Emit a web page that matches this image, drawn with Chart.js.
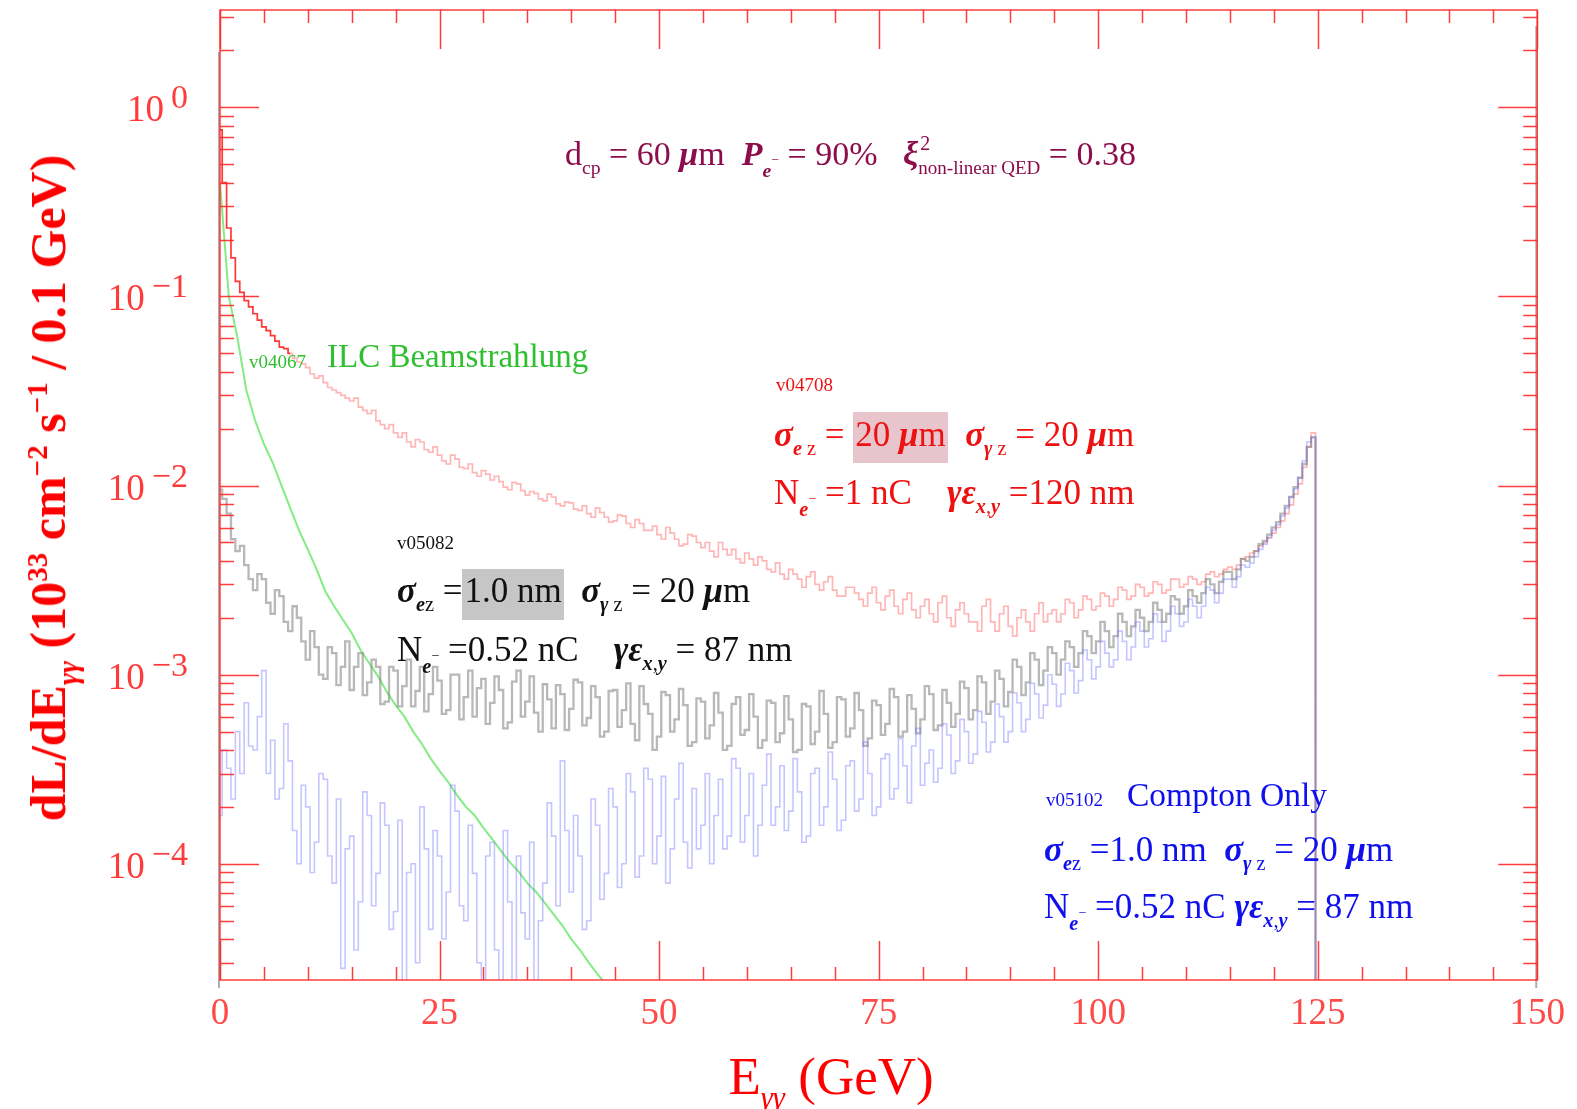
<!DOCTYPE html>
<html>
<head>
<meta charset="utf-8">
<script src="https://cdn.jsdelivr.net/npm/chart.js@4.4.1/dist/chart.umd.min.js"></script>
<style>
  html, body { margin: 0; padding: 0; background: #fff; }
  #wrap { position: relative; width: 1577px; height: 1109px; overflow: hidden; }
  #chart { position: absolute; left: 0; top: 0; }
  .ann { position: absolute; font-family: "Liberation Serif", "Times New Roman", serif; white-space: nowrap; line-height: 1; }
  .bi { font-weight: bold; font-style: italic; }
  .it { font-style: italic; }
  .sb { font-size: 0.58em; position: relative; top: 0.45em; }
  .sp { font-size: 0.58em; position: relative; top: -0.62em; }
  .ne { font-size: 0.58em; position: relative; top: 0.6em; }
  .ne .m { font-size: 0.7em; position: relative; top: -0.9em; }
  .ss { font-size: 0.56em; position: relative; top: 0.45em; }
  .ss .two { position: absolute; left: 0.1em; top: -1.2em; font-size: 1.05em; }
  .hl-red { background: #e8c5cc; padding: 3px 2px 9px 2px; }
  .hl-grey { background: #c6c6c6; padding: 2px 2px 10px 2px; }
  .small { font-size: 19px; }
  .line { font-size: 35px; }
</style>
</head>
<body>
<div id="wrap">
  <canvas id="chart" width="1577" height="1109"></canvas>

  <!-- axis titles -->
  <div class="ann" style="left:48px; top:488px; font-size:50px; font-weight:bold; color:#ff0000; transform:translate(-50%,-50%) rotate(-90deg);">dL/dE<span class="sb it">γγ</span> (10<span class="sp">33</span> cm<span class="sp">−2</span> s<span class="sp">−1</span> / 0.1 GeV)</div>
  <div class="ann" style="left:831px; top:1076px; font-size:53px; color:#ff0000; transform:translate(-50%,-50%);">E<span class="sb it">γγ</span> (GeV)</div>

  <!-- run parameters -->
  <div class="ann" style="left:565px; top:137px; font-size:34px; color:#8c0c4c;">d<span class="sb">cp</span> = 60 <span class="bi">μ</span>m&nbsp; <span class="bi">P</span><span class="ne"><span class="bi">e</span><span class="m">−</span></span> = 90% &nbsp;&nbsp;<span class="bi">ξ</span><span class="ss"><span class="two">2</span>non-linear QED</span> = 0.38</div>

  <!-- ILC beamstrahlung -->
  <div class="ann small" style="left:249px; top:352px; color:#2fbf2f;">v04067</div>
  <div class="ann" style="left:327px; top:340px; font-size:33px; color:#2fbf2f;">ILC Beamstrahlung</div>

  <!-- v04708 (red) -->
  <div class="ann small" style="left:776px; top:375px; color:#ee1111;">v04708</div>
  <div class="ann line" style="left:774px; top:417px; color:#ee1111;"><span class="bi">σ</span><span class="sb"><span class="bi">e</span> z</span> = <span class="hl-red">20 <span class="bi">μ</span>m</span>&nbsp; <span class="bi">σ</span><span class="sb"><span class="bi">γ</span> z</span> = 20 <span class="bi">μ</span>m</div>
  <div class="ann line" style="left:774px; top:475px; color:#ee1111;">N<span class="ne"><span class="bi">e</span><span class="m">−</span></span> =1 nC &nbsp;&nbsp; <span class="bi">γε</span><span class="sb"><span class="bi">x</span>,<span class="bi">y</span></span> =120 nm</div>

  <!-- v05082 (black) -->
  <div class="ann small" style="left:397px; top:533px; color:#111;">v05082</div>
  <div class="ann line" style="left:397px; top:573px; color:#111;"><span class="bi">σ</span><span class="sb"><span class="bi">e</span>z</span> =<span class="hl-grey">1.0 nm</span>&nbsp; <span class="bi">σ</span><span class="sb"><span class="bi">γ</span> z</span> = 20 <span class="bi">μ</span>m</div>
  <div class="ann line" style="left:397px; top:632px; color:#111;">N<span class="ne"><span class="bi">e</span><span class="m">−</span></span> =0.52 nC &nbsp;&nbsp; <span class="bi">γε</span><span class="sb"><span class="bi">x</span>,<span class="bi">y</span></span> = 87 nm</div>

  <!-- v05102 (blue) -->
  <div class="ann small" style="left:1046px; top:790px; color:#1010ee;">v05102</div>
  <div class="ann" style="left:1127px; top:778px; font-size:33.5px; color:#1010ee;">Compton Only</div>
  <div class="ann line" style="left:1044px; top:832px; color:#1010ee;"><span class="bi">σ</span><span class="sb"><span class="bi">e</span>z</span> =1.0 nm&nbsp; <span class="bi">σ</span><span class="sb"><span class="bi">γ</span> z</span> = 20 <span class="bi">μ</span>m</div>
  <div class="ann line" style="left:1044px; top:889px; color:#1010ee;">N<span class="ne"><span class="bi">e</span><span class="m">−</span></span> =0.52 nC <span class="bi">γε</span><span class="sb"><span class="bi">x</span>,<span class="bi">y</span></span> = 87 nm</div>
</div>

<script>
// photon-photon energy (GeV), 0.5 GeV bin centres
const energy = [
  0, 0.5, 1, 1.5, 2, 2.5, 3, 3.5, 4, 4.5,
  5, 5.5, 6, 6.5, 7, 7.5, 8, 8.5, 9, 9.5,
  10, 10.5, 11, 11.5, 12, 12.5, 13, 13.5, 14, 14.5,
  15, 15.5, 16, 16.5, 17, 17.5, 18, 18.5, 19, 19.5,
  20, 20.5, 21, 21.5, 22, 22.5, 23, 23.5, 24, 24.5,
  25, 25.5, 26, 26.5, 27, 27.5, 28, 28.5, 29, 29.5,
  30, 30.5, 31, 31.5, 32, 32.5, 33, 33.5, 34, 34.5,
  35, 35.5, 36, 36.5, 37, 37.5, 38, 38.5, 39, 39.5,
  40, 40.5, 41, 41.5, 42, 42.5, 43, 43.5, 44, 44.5,
  45, 45.5, 46, 46.5, 47, 47.5, 48, 48.5, 49, 49.5,
  50, 50.5, 51, 51.5, 52, 52.5, 53, 53.5, 54, 54.5,
  55, 55.5, 56, 56.5, 57, 57.5, 58, 58.5, 59, 59.5,
  60, 60.5, 61, 61.5, 62, 62.5, 63, 63.5, 64, 64.5,
  65, 65.5, 66, 66.5, 67, 67.5, 68, 68.5, 69, 69.5,
  70, 70.5, 71, 71.5, 72, 72.5, 73, 73.5, 74, 74.5,
  75, 75.5, 76, 76.5, 77, 77.5, 78, 78.5, 79, 79.5,
  80, 80.5, 81, 81.5, 82, 82.5, 83, 83.5, 84, 84.5,
  85, 85.5, 86, 86.5, 87, 87.5, 88, 88.5, 89, 89.5,
  90, 90.5, 91, 91.5, 92, 92.5, 93, 93.5, 94, 94.5,
  95, 95.5, 96, 96.5, 97, 97.5, 98, 98.5, 99, 99.5,
  100, 100.5, 101, 101.5, 102, 102.5, 103, 103.5, 104, 104.5,
  105, 105.5, 106, 106.5, 107, 107.5, 108, 108.5, 109, 109.5,
  110, 110.5, 111, 111.5, 112, 112.5, 113, 113.5, 114, 114.5,
  115, 115.5, 116, 116.5, 117, 117.5, 118, 118.5, 119, 119.5,
  120, 120.5, 121, 121.5, 122, 122.5, 123, 123.5, 124, 124.5,
  125
];

// v04708: sigma_ez = 20 um (red)
const lumiV04708 = [
  0.76, 0.40, 0.23, 0.16, 0.12, 0.105, 0.095, 0.088, 0.081, 0.075,
  0.069, 0.066, 0.062, 0.058, 0.054, 0.053, 0.050, 0.047, 0.045, 0.044,
  0.042, 0.039, 0.037, 0.038, 0.035, 0.033, 0.032, 0.031, 0.030, 0.029,
  0.028, 0.029, 0.026, 0.025, 0.024, 0.025, 0.022, 0.021, 0.020, 0.021,
  0.019, 0.018, 0.019, 0.017, 0.016, 0.0175, 0.017, 0.0155, 0.015, 0.016,
  0.0145, 0.0135, 0.013, 0.0145, 0.0138, 0.0125, 0.0123, 0.013, 0.0117, 0.0112,
  0.012, 0.0115, 0.0107, 0.0112, 0.0105, 0.0098, 0.0095, 0.0104, 0.0102, 0.0094,
  0.0089, 0.0093, 0.0091, 0.0085, 0.0083, 0.0090, 0.0087, 0.0080, 0.0078, 0.0082,
  0.0081, 0.0075, 0.0074, 0.0078, 0.0071, 0.0068, 0.0076, 0.0072, 0.0068, 0.0064,
  0.0065, 0.0070, 0.0069, 0.0063, 0.0060, 0.0066, 0.0063, 0.0058, 0.0058, 0.0061,
  0.0055, 0.0052, 0.0060, 0.0056, 0.0052, 0.0048, 0.0049, 0.0055, 0.0054, 0.0050,
  0.0047, 0.0050, 0.0045, 0.0042, 0.0050, 0.0046, 0.0043, 0.0046, 0.0041, 0.0039,
  0.0044, 0.0041, 0.0038, 0.0042, 0.0040, 0.0036, 0.0035, 0.0039, 0.0034, 0.0032,
  0.0036, 0.0034, 0.0032, 0.0029, 0.0033, 0.0035, 0.0030, 0.0028, 0.0031, 0.0033,
  0.0028, 0.0026, 0.0026, 0.0029, 0.0029, 0.0027, 0.0025, 0.0023, 0.0027, 0.0029,
  0.0024, 0.0022, 0.0026, 0.0028, 0.0023, 0.0021, 0.0025, 0.0027, 0.0022, 0.0020,
  0.0023, 0.0025, 0.0021, 0.0019, 0.0024, 0.0026, 0.0020, 0.0018, 0.0022, 0.0024,
  0.0021, 0.0019, 0.0019, 0.0017, 0.0023, 0.0025, 0.0019, 0.0017, 0.0021, 0.0023,
  0.0018, 0.0016, 0.0020, 0.0022, 0.0019, 0.0017, 0.0021, 0.0024, 0.0019, 0.0021,
  0.0022, 0.0019, 0.0021, 0.0025, 0.0024, 0.0020, 0.0022, 0.0026, 0.0025, 0.0022,
  0.0023, 0.0027, 0.0026, 0.0023, 0.0025, 0.0029, 0.0028, 0.0025, 0.0026, 0.0030,
  0.0029, 0.0026, 0.0027, 0.0031, 0.0030, 0.0027, 0.0028, 0.0032, 0.0032, 0.0029,
  0.0030, 0.0033, 0.0032, 0.0030, 0.0031, 0.0034, 0.0035, 0.0033, 0.0034, 0.0036,
  0.0037, 0.0036, 0.0038, 0.0041, 0.0042, 0.0044, 0.0045, 0.0048, 0.0050, 0.0053,
  0.0056, 0.0060, 0.0065, 0.0071, 0.0079, 0.0090, 0.0102, 0.0125, 0.016, 0.019,
  1e-7
];

// v05082: sigma_ez = 1.0 nm (grey)
const lumiV05082 = [
  0.0095, 0.0085, 0.0071, 0.0052, 0.0045, 0.0048, 0.0038, 0.0032, 0.0028, 0.0034,
  0.0032, 0.0024, 0.0021, 0.0028, 0.0026, 0.0019, 0.0017, 0.0023, 0.0020, 0.0015,
  0.0012, 0.0017, 0.0014, 0.0010, 0.00095, 0.0014, 0.0013, 0.00088, 0.0011, 0.0015,
  0.00083, 0.0011, 0.0013, 0.00078, 0.00091, 0.0012, 0.0011, 0.00070, 0.00072, 0.0011,
  0.00105, 0.00068, 0.00087, 0.0012, 0.00068, 0.00082, 0.0011, 0.00064, 0.00079, 0.0011,
  0.00093, 0.00062, 0.00065, 0.0010, 0.0010, 0.00058, 0.00076, 0.00105, 0.00060, 0.00085,
  0.00095, 0.00055, 0.00071, 0.00098, 0.00083, 0.00052, 0.00056, 0.00092, 0.00105, 0.00060,
  0.00072, 0.00098, 0.00063, 0.00050, 0.00089, 0.00074, 0.00052, 0.00088, 0.00079, 0.00051,
  0.00066, 0.00094, 0.00091, 0.00054, 0.00059, 0.00087, 0.00076, 0.00047, 0.00050, 0.00082,
  0.00083, 0.00053, 0.00065, 0.00090, 0.00055, 0.00045, 0.00087, 0.00070, 0.00062, 0.00040,
  0.00047, 0.00081, 0.00078, 0.00050, 0.00058, 0.00084, 0.00069, 0.00042, 0.00044, 0.00075,
  0.00072, 0.00046, 0.00054, 0.00080, 0.00063, 0.00040, 0.00042, 0.00070, 0.00076, 0.00048,
  0.00051, 0.00079, 0.00060, 0.00041, 0.00045, 0.00073, 0.00071, 0.00044, 0.00049, 0.00077,
  0.00058, 0.00039, 0.00040, 0.00070, 0.00068, 0.00043, 0.00050, 0.00082, 0.00062, 0.00041,
  0.00044, 0.00076, 0.00074, 0.00047, 0.00052, 0.00080, 0.00065, 0.00042, 0.00046, 0.00073,
  0.00069, 0.00048, 0.00055, 0.00084, 0.00076, 0.00047, 0.00050, 0.00078, 0.00066, 0.00049,
  0.00058, 0.00087, 0.00079, 0.00051, 0.00054, 0.00083, 0.00071, 0.00053, 0.00062, 0.00092,
  0.00085, 0.00058, 0.00065, 0.00098, 0.00091, 0.00062, 0.00072, 0.00105, 0.00095, 0.00068,
  0.00081, 0.0012, 0.0011, 0.00078, 0.00091, 0.0013, 0.0012, 0.00088, 0.00105, 0.0014,
  0.0013, 0.0010, 0.0012, 0.0015, 0.0014, 0.0011, 0.0013, 0.0017, 0.0016, 0.0013,
  0.0015, 0.0019, 0.0017, 0.0014, 0.0016, 0.0021, 0.0019, 0.0016, 0.0018, 0.0022,
  0.0020, 0.0017, 0.0019, 0.0024, 0.0022, 0.0019, 0.0021, 0.0026, 0.0025, 0.0021,
  0.0023, 0.0028, 0.0026, 0.0024, 0.0027, 0.0032, 0.0030, 0.0027, 0.0031, 0.0035,
  0.0035, 0.0032, 0.0036, 0.0041, 0.0040, 0.0042, 0.0045, 0.0049, 0.0051, 0.0055,
  0.0060, 0.0064, 0.0071, 0.0078, 0.0087, 0.0098, 0.011, 0.013, 0.016, 0.018,
  1e-7
];

// v05102: Compton only (blue)
const lumiV05102 = [
  1.8e-4, 4.0e-4, 3.2e-4, 2.2e-4, 5.0e-4, 3.0e-4, 7.1e-4, 4.2e-4, 4.0e-4, 6.0e-4,
  1.05e-3, 3.0e-4, 4.5e-4, 2.2e-4, 2.5e-4, 5.5e-4, 3.5e-4, 1.5e-4, 1.0e-4, 2.6e-4,
  2.0e-4, 9.0e-5, 1.3e-4, 3.0e-4, 2.8e-4, 1.1e-4, 7.9e-5, 2.2e-4, 2.8e-5, 1.2e-4,
  1.4e-4, 3.5e-5, 6.3e-5, 2.4e-4, 1.8e-4, 6.0e-5, 8.9e-5, 2.1e-4, 1.6e-4, 4.5e-5,
  5.6e-5, 1.7e-4, 2.0e-5, 9.0e-5, 1.0e-4, 3.0e-5, 2.0e-4, 1.2e-4, 4.5e-5, 1.5e-4,
  1.1e-4, 4.0e-5, 7.1e-5, 2.6e-4, 1.9e-4, 6.0e-5, 5.0e-5, 1.6e-4, 8.9e-5, 3.0e-5,
  2.0e-5, 1.1e-4, 1.3e-4, 3.5e-5, 1.8e-5, 1.5e-4, 6.3e-5, 2.2e-5, 1.1e-4, 5.5e-5,
  4.0e-5, 1.3e-4, 1.6e-5, 5.0e-5, 7.9e-5, 2.1e-4, 1.4e-4, 6.0e-5, 3.5e-4, 1.5e-4,
  7.1e-5, 1.8e-4, 1.1e-4, 4.5e-5, 5.0e-5, 2.2e-4, 1.6e-4, 6.5e-5, 8.9e-5, 2.5e-4,
  2.0e-4, 7.5e-5, 1.0e-4, 3.0e-4, 2.4e-4, 8.5e-5, 1.1e-4, 3.2e-4, 2.8e-4, 1.0e-4,
  1.4e-4, 2.9e-4, 7.9e-5, 1.2e-4, 2.2e-4, 3.4e-4, 1.3e-4, 9.5e-5, 2.5e-4, 1.2e-4,
  1.6e-4, 3.0e-4, 1.0e-4, 1.8e-4, 2.8e-4, 1.2e-4, 1.4e-4, 3.6e-4, 3.2e-4, 1.3e-4,
  1.8e-4, 3.0e-4, 1.1e-4, 1.6e-4, 2.6e-4, 3.8e-4, 1.6e-4, 2.0e-4, 3.3e-4, 1.5e-4,
  1.9e-4, 3.6e-4, 2.4e-4, 1.3e-4, 1.4e-4, 3.0e-4, 3.2e-4, 1.6e-4, 2.0e-4, 3.9e-4,
  2.8e-4, 1.5e-4, 1.7e-4, 3.3e-4, 3.5e-4, 1.9e-4, 2.2e-4, 4.4e-4, 3.0e-4, 1.8e-4,
  2.0e-4, 3.6e-4, 3.8e-4, 2.2e-4, 2.5e-4, 4.6e-4, 3.3e-4, 2.1e-4, 4.2e-4, 5.2e-4,
  2.6e-4, 3.4e-4, 4.0e-4, 2.7e-4, 3.2e-4, 5.5e-4, 4.8e-4, 3.0e-4, 3.5e-4, 5.8e-4,
  5.0e-4, 3.4e-4, 3.8e-4, 6.4e-4, 5.6e-4, 3.9e-4, 4.4e-4, 7.0e-4, 6.0e-4, 4.4e-4,
  5.0e-4, 8.0e-4, 7.1e-4, 5.0e-4, 5.8e-4, 9.0e-4, 7.9e-4, 5.9e-4, 6.9e-4, 1.0e-3,
  8.9e-4, 6.8e-4, 7.9e-4, 1.15e-3, 1.05e-3, 8.0e-4, 9.3e-4, 1.35e-3, 1.2e-3, 9.5e-4,
  1.1e-3, 1.5e-3, 1.3e-3, 1.1e-3, 1.2e-3, 1.7e-3, 1.5e-3, 1.2e-3, 1.4e-3, 1.9e-3,
  1.7e-3, 1.4e-3, 1.55e-3, 2.1e-3, 1.9e-3, 1.5e-3, 1.7e-3, 2.3e-3, 2.1e-3, 1.8e-3,
  1.9e-3, 2.5e-3, 2.3e-3, 2.0e-3, 2.3e-3, 2.9e-3, 2.8e-3, 2.4e-3, 2.7e-3, 3.2e-3,
  3.2e-3, 2.9e-3, 3.3e-3, 3.8e-3, 3.7e-3, 3.9e-3, 4.2e-3, 4.6e-3, 4.9e-3, 5.3e-3,
  5.8e-3, 6.2e-3, 6.9e-3, 7.6e-3, 8.7e-3, 9.6e-3, 1.1e-2, 1.35e-2, 1.7e-2, 1.8e-2,
  1e-7
];

// v04067: ILC beamstrahlung (green), 1 GeV steps
const energyIlc = [
  0, 1, 2, 3, 4, 5, 6, 7, 8, 9,
  10, 11, 12, 13, 14, 15, 16, 17, 18, 19,
  20, 21, 22, 23, 24, 25, 26, 27, 28, 29,
  30, 31, 32, 33, 34, 35, 36, 37, 38, 39,
  40, 41, 42, 43, 44, 45
];
const lumiV04067 = [
  0.40, 0.10, 0.060, 0.032, 0.022, 0.0166, 0.0132, 0.010, 0.0076, 0.0058,
  0.0046, 0.0036, 0.00275, 0.0023, 0.00195, 0.00166, 0.00135, 0.00115, 0.00098, 0.00081,
  0.00069, 0.00060, 0.00050, 0.00043, 0.00036, 0.00031, 0.00027, 0.00023, 0.00020, 0.00018,
  0.000155, 0.000135, 0.000117, 0.000102, 9.1e-5, 7.9e-5, 7.1e-5, 6.2e-5, 5.4e-5, 4.7e-5,
  4.0e-5, 3.5e-5, 3.0e-5, 2.6e-5, 2.3e-5, 2.0e-5
];

// axis setup
const xTickValues = [0, 25, 50, 75, 100, 125, 150];
const yDecades = [1, 0.1, 0.01, 0.001, 0.0001];
const yExponents = ['0', '\u22121', '\u22122', '\u22123', '\u22124'];
const yMin = 2.43e-5;
const yMax = 3.27;

function points(xs, values) {
    return values.map((v, i) => ({ x: xs[i], y: v }));
}

// red frame with ROOT style inward ticks + y decade labels
const framePlugin = {
    id: 'frame',
    afterDatasetsDraw(chart) {
        const { ctx, chartArea: a, scales: { x, y } } = chart;
        ctx.save();

        // faint grey edge left over from the overlaid frames
        ctx.strokeStyle = 'rgba(110,110,110,0.55)';
        ctx.lineWidth = 2;
        ctx.beginPath();
        ctx.moveTo(a.left - 1, 52); ctx.lineTo(a.left - 1, a.bottom + 8);
        ctx.moveTo(a.right - 1, 26); ctx.lineTo(a.right - 1, a.bottom + 8);
        ctx.stroke();

        ctx.strokeStyle = 'rgba(255,40,40,0.9)';
        ctx.lineWidth = 1.5;
        ctx.strokeRect(a.left, a.top, a.right - a.left, a.bottom - a.top);

        ctx.beginPath();
        for (let v = 0; v <= 150; v += 5) {
            const px = Math.round(x.getPixelForValue(v)) + 0.5;
            const len = v % 25 === 0 ? 39 : 13;
            ctx.moveTo(px, a.bottom); ctx.lineTo(px, a.bottom - len);
            ctx.moveTo(px, a.top); ctx.lineTo(px, a.top + len);
        }
        for (let p = -5; p <= 0; p++) {
            for (let m = 1; m <= 9; m++) {
                const v = m * Math.pow(10, p);
                if (v < yMin || v > yMax) continue;
                const py = Math.round(y.getPixelForValue(v)) + 0.5;
                const len = m === 1 ? 39 : 14;
                ctx.moveTo(a.left, py); ctx.lineTo(a.left + len, py);
                ctx.moveTo(a.right, py); ctx.lineTo(a.right - len, py);
            }
        }
        ctx.stroke();

        // y labels: 10 with raised exponent
        ctx.fillStyle = '#ff3a3a';
        ctx.textBaseline = 'alphabetic';
        ctx.textAlign = 'left';
        yDecades.forEach((d, i) => {
            const py = y.getPixelForValue(d);
            ctx.font = '34px "Liberation Serif"';
            const expW = ctx.measureText(yExponents[i]).width;
            ctx.font = '37px "Liberation Serif"';
            const baseW = ctx.measureText('10').width;
            const right = 188;
            const x0 = right - expW - 7 - baseW;
            ctx.fillText('10', x0, py + 14);
            ctx.font = '34px "Liberation Serif"';
            ctx.fillText(yExponents[i], right - expW, py + 1);
        });
        ctx.restore();
    }
};

new Chart(document.getElementById('chart'), {
    type: 'line',
    data: {
        datasets: [
            {
                label: 'v05102 Compton Only',
                data: points(energy, lumiV05102),
                stepped: 'middle',
                borderColor: 'rgba(110,110,255,0.4)',
                borderWidth: 1.6
            },
            {
                label: 'v05082',
                data: points(energy, lumiV05082),
                stepped: 'middle',
                borderColor: 'rgba(125,125,125,0.55)',
                borderWidth: 2.3
            },
            {
                label: 'v04708',
                data: points(energy, lumiV04708),
                stepped: 'middle',
                borderColor: 'rgba(255,80,80,0.42)',
                borderWidth: 1.7,
                segment: {
                    borderColor: ctx => ctx.p0.parsed.x < 8 ? 'rgba(255,20,20,0.85)' : undefined
                }
            },
            {
                label: 'v04067 ILC Beamstrahlung',
                data: points(energyIlc, lumiV04067),
                borderColor: 'rgba(90,230,90,0.75)',
                borderWidth: 2
            }
        ]
    },
    options: {
        responsive: false,
        animation: false,
        devicePixelRatio: 1,
        layout: { padding: { left: 0, right: 37, top: 10, bottom: 0 } },
        elements: { point: { radius: 0 }, line: { tension: 0 } },
        plugins: { legend: { display: false }, tooltip: { enabled: false } },
        scales: {
            x: {
                type: 'linear',
                min: 0,
                max: 150,
                grid: { display: false, drawTicks: false },
                border: { display: false },
                afterBuildTicks: s => { s.ticks = xTickValues.map(v => ({ value: v })); },
                ticks: {
                    color: '#ff4a4a',
                    font: { family: '"Liberation Serif"', size: 37 },
                    padding: 12,
                    maxRotation: 0,
                    autoSkip: false
                },
                afterFit: s => { s.height = 129; }
            },
            y: {
                type: 'logarithmic',
                min: yMin,
                max: yMax,
                grid: { display: false },
                border: { display: false },
                ticks: { display: false },
                afterFit: s => { s.width = 220; }
            }
        }
    },
    plugins: [framePlugin]
});
</script>
</body>
</html>
